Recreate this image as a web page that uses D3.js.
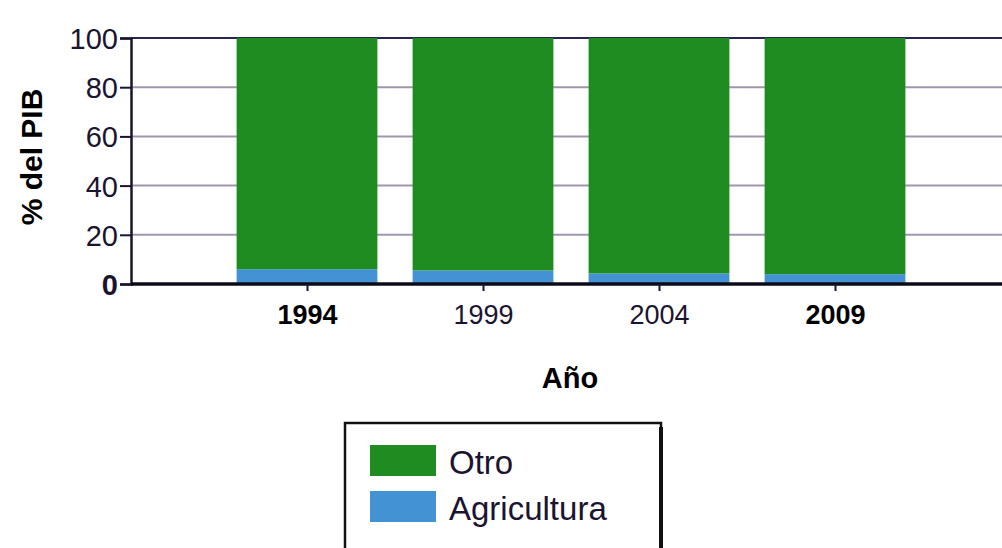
<!DOCTYPE html>
<html>
<head>
<meta charset="utf-8">
<script src="https://cdn.jsdelivr.net/npm/d3@7"></script>
<style>
  html, body { margin: 0; padding: 0; background: #fff; }
  svg { display: block; }
</style>
</head>
<body>
<svg id="chart" width="1002" height="548"></svg>
<script>
// Share of GDP by sector (percent), stacked per year
const years = [1994, 1999, 2004, 2009];
const agricultura = [6.0, 5.5, 4.3, 4.0];
const otro = [94.0, 94.5, 95.7, 96.0];
const yTicks = [0, 20, 40, 60, 80, 100];
const seriesNames = ["Otro", "Agricultura"];
const colors = { Otro: "#1f8c22", Agricultura: "#4392d4" };
const boldYears = [1994, 2009];

const svg = d3.select("#chart");
const ink = "#1b1430";
const font = "'Liberation Sans Narrow', 'Liberation Sans', Arial, sans-serif";

const plotLeft = 131, plotTop = 38, plotBottom = 284;
const x = d3.scaleLinear().domain([1989, 2014]).range([plotLeft, 1011]);
const y = d3.scaleLinear().domain([0, 100]).range([plotBottom, plotTop]);

const rows = years.map((yr, i) => ({ year: yr, Agricultura: agricultura[i], Otro: otro[i] }));
const stack = d3.stack().keys(["Agricultura", "Otro"]);
const layers = stack(rows);

// horizontal gridlines
svg.append("g").selectAll("line")
  .data(yTicks.filter(t => t > 0 && t < 100))
  .join("line")
  .attr("x1", plotLeft).attr("x2", 1002)
  .attr("y1", d => y(d)).attr("y2", d => y(d))
  .attr("stroke", "#a096ae").attr("stroke-width", 2);

// top frame line
svg.append("line")
  .attr("x1", plotLeft).attr("x2", 1002)
  .attr("y1", y(100)).attr("y2", y(100))
  .attr("stroke", "#2a2450").attr("stroke-width", 2);

// stacked bars, 4 years wide each
const halfWidth = 2;
svg.append("g").selectAll("g")
  .data(layers)
  .join("g")
  .attr("fill", d => colors[d.key])
  .selectAll("rect")
  .data(d => d)
  .join("rect")
  .attr("x", d => x(d.data.year - halfWidth))
  .attr("width", d => x(d.data.year + halfWidth) - x(d.data.year - halfWidth))
  .attr("y", d => y(d[1]))
  .attr("height", d => y(d[0]) - y(d[1]));

// y axis
const yAxis = d3.axisLeft(y).tickValues(yTicks).tickSize(11).tickPadding(2);
const gy = svg.append("g").attr("transform", `translate(${plotLeft},0)`).call(yAxis);
gy.select(".domain").attr("stroke", ink).attr("stroke-width", 2.5);
gy.selectAll(".tick line").attr("stroke", ink).attr("stroke-width", 2);
gy.selectAll(".tick text")
  .attr("fill", ink)
  .style("font-family", font)
  .style("font-size", "29px")
  .style("font-weight", d => d === 0 ? "bold" : "normal")
  .attr("dy", "0.36em");

// x axis
const xAxis = d3.axisBottom(x).tickValues(years).tickFormat(d3.format("d")).tickSize(7).tickPadding(14);
const gx = svg.append("g").attr("transform", `translate(0,${plotBottom})`).call(xAxis);
gx.select(".domain").attr("stroke", "#0d0a18").attr("stroke-width", 3.5)
  .attr("d", `M${plotLeft},0H1002`);
gx.selectAll(".tick line").attr("stroke", ink).attr("stroke-width", 2);
gx.selectAll(".tick text")
  .attr("fill", d => boldYears.includes(d) ? "#000" : ink)
  .style("font-family", font)
  .style("font-size", "27px")
  .style("font-weight", d => boldYears.includes(d) ? "bold" : "normal");

// axis titles
svg.append("text")
  .attr("transform", "translate(42,157) rotate(-90)")
  .attr("text-anchor", "middle")
  .style("font-family", font)
  .style("font-size", "30px")
  .style("font-weight", "bold")
  .attr("fill", "#000")
  .text("% del PIB");

svg.append("text")
  .attr("x", 570).attr("y", 388)
  .attr("text-anchor", "middle")
  .style("font-family", font)
  .style("font-size", "29px")
  .style("font-weight", "bold")
  .attr("fill", "#000")
  .text("Año");

// legend
const lg = svg.append("g");
lg.append("rect")
  .attr("x", 345).attr("y", 423).attr("width", 316).attr("height", 140)
  .attr("fill", "#fff").attr("stroke", "#111").attr("stroke-width", 2.5);
lg.append("line")
  .attr("x1", 661).attr("x2", 661).attr("y1", 427).attr("y2", 548)
  .attr("stroke", "#111").attr("stroke-width", 4);
const items = lg.selectAll("g.item")
  .data(seriesNames)
  .join("g")
  .attr("class", "item")
  .attr("transform", (d, i) => `translate(370,${445 + i * 46})`);
items.append("rect")
  .attr("width", 66).attr("height", 31)
  .attr("fill", d => colors[d]);
items.append("text")
  .attr("x", 79).attr("y", 29)
  .style("font-family", "'Liberation Sans', Arial, sans-serif")
  .style("font-size", "33px")
  .attr("fill", ink)
  .text(d => d);
</script>
</body>
</html>
